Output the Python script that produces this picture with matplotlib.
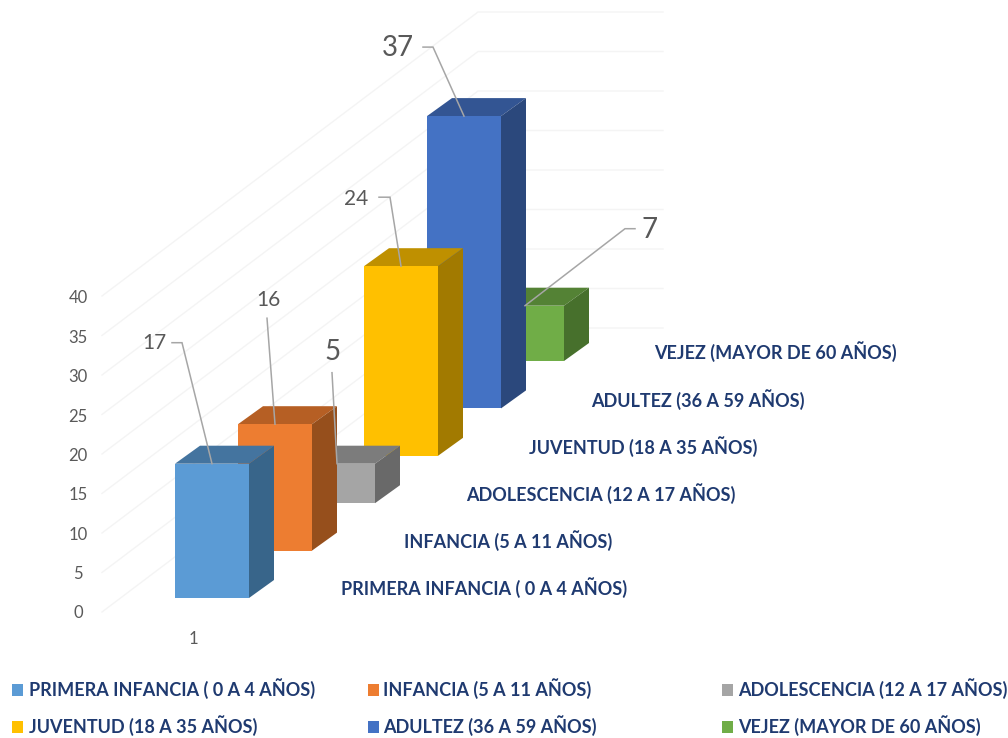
import matplotlib
matplotlib.use("Agg")
import matplotlib.pyplot as plt
from matplotlib.patches import Polygon, Rectangle

# ---------- data ----------
categories = ["PRIMERA INFANCIA ( 0 A 4 AÑOS)", "INFANCIA (5 A 11 AÑOS)",
              "ADOLESCENCIA (12 A 17 AÑOS)", "JUVENTUD (18 A 35 AÑOS)",
              "ADULTEZ (36 A 59 AÑOS)", "VEJEZ (MAYOR DE 60 AÑOS)"]
values = [17, 16, 5, 24, 37, 7]
y_ticks = [0, 5, 10, 15, 20, 25, 30, 35, 40]
x_tick_labels = ["1"]

# ---------- styles ----------
front_colors = ["#5B9BD5", "#ED7D31", "#A5A5A5", "#FFC000", "#4472C4", "#70AD47"]
top_colors = ["#44749F", "#B65F24", "#7C7C7C", "#BF9000", "#335593", "#548235"]
side_colors = ["#38658A", "#964F1C", "#696969", "#A27A00", "#2B487C", "#47702C"]
label_sizes = [15, 15, 20, 15, 20, 20]
# label anchor / elbow offsets from the top-front-centre of each bar, in px
label_text_off = [(-58, -121), (-7, -124), (-4, -112), (-45, -67), (-66, -68), (125, -76)]
elbow_off = [[(-40, -121), (-30, -121)], [(-8, -106), (-8, -106)], [(-5, -91), (-5, -91)],
             [(-22, -69), (-11, -69)], [(-41, -69), (-31, -69)], [(110, -77), (100, -77)]]
anchor_shift = [0, 0, -1, 0, 0, -2]

NAVY = "#1F3A70"
GRAY = "#595959"
FONT = "Lato"

# ---------- layout (pixels) ----------
W, H = 1008, 738
PX_PER_UNIT = 7.9
BAR_W = 74
DEPTH_X, DEPTH_Y = 25, 18
STEP_X, STEP_Y = 63, 47.4
X0, Y0 = 175, 598

fig = plt.figure(figsize=(W / 100, H / 100), dpi=100, facecolor="white")
ax = fig.add_axes([0, 0, 1, 1])
ax.set_xlim(0, W)
ax.set_ylim(H, 0)
ax.axis("off")

# gridlines: left wall + back wall
for v in y_ticks:
    dy = v * PX_PER_UNIT
    ax.plot([102, 478, 663], [612 - dy, 328 - dy, 328 - dy], color="#F4F4F4", lw=1, zorder=1)
    ax.text(78, 613.5 - v * 7.88, str(v), color=GRAY, fontsize=12, family=FONT,
            ha="center", va="center", zorder=2)

ax.text(193.5, 639, x_tick_labels[0], color=GRAY, fontsize=12, family=FONT,
        ha="center", va="center", zorder=2)

# bars, back to front
n = len(values)
for i in range(n - 1, -1, -1):
    x = X0 + i * STEP_X
    base = Y0 - i * STEP_Y
    h = values[i] * PX_PER_UNIT
    top = base - h
    z = 10 + (n - i)
    ax.add_patch(Polygon([(x, top), (x + BAR_W, top), (x + BAR_W + DEPTH_X, top - DEPTH_Y),
                          (x + DEPTH_X, top - DEPTH_Y)], closed=True, fc=top_colors[i], ec="none", zorder=z))
    ax.add_patch(Polygon([(x + BAR_W, top), (x + BAR_W + DEPTH_X, top - DEPTH_Y),
                          (x + BAR_W + DEPTH_X, base - DEPTH_Y), (x + BAR_W, base)], closed=True,
                         fc=side_colors[i], ec="none", zorder=z))
    ax.add_patch(Rectangle((x, top), BAR_W, h, fc=front_colors[i], ec="none", zorder=z))

# series axis labels
for i, c in enumerate(categories):
    ax.text(X0 + 166 + i * 62.6, Y0 - 10 - i * 47.2, c, color=NAVY, fontsize=13, family=FONT,
            fontweight="bold", ha="left", va="center", zorder=30)

# data labels with leader lines
for i, v in enumerate(values):
    x = X0 + i * STEP_X + BAR_W / 2 + anchor_shift[i]
    top = Y0 - i * STEP_Y - v * PX_PER_UNIT
    pts = [(x + a, top + b) for a, b in elbow_off[i]] + [(x, top)]
    ax.plot([p[0] for p in pts], [p[1] for p in pts], color="#A6A6A6", lw=1.1, zorder=35,
            solid_joinstyle="miter")
    ax.text(x + label_text_off[i][0], top + label_text_off[i][1], str(v), color=GRAY,
            fontsize=label_sizes[i], family=FONT, ha="center", va="center", zorder=36)

# legend
legend_col_sq = [12, 368, 722]
legend_col_txt = [29, 383, 738]
legend_row_y = [690, 727]
for i, c in enumerate(categories):
    col, row = i % 3, i // 3
    ax.add_patch(Rectangle((legend_col_sq[col], legend_row_y[row] - 6), 11, 12, fc=front_colors[i], ec="none", zorder=5))
    ax.text(legend_col_txt[col], legend_row_y[row] - 1, c, color=NAVY, fontsize=13, family=FONT,
            fontweight="bold", ha="left", va="center", zorder=5)

fig.savefig("out.png", dpi=100, facecolor="white")
